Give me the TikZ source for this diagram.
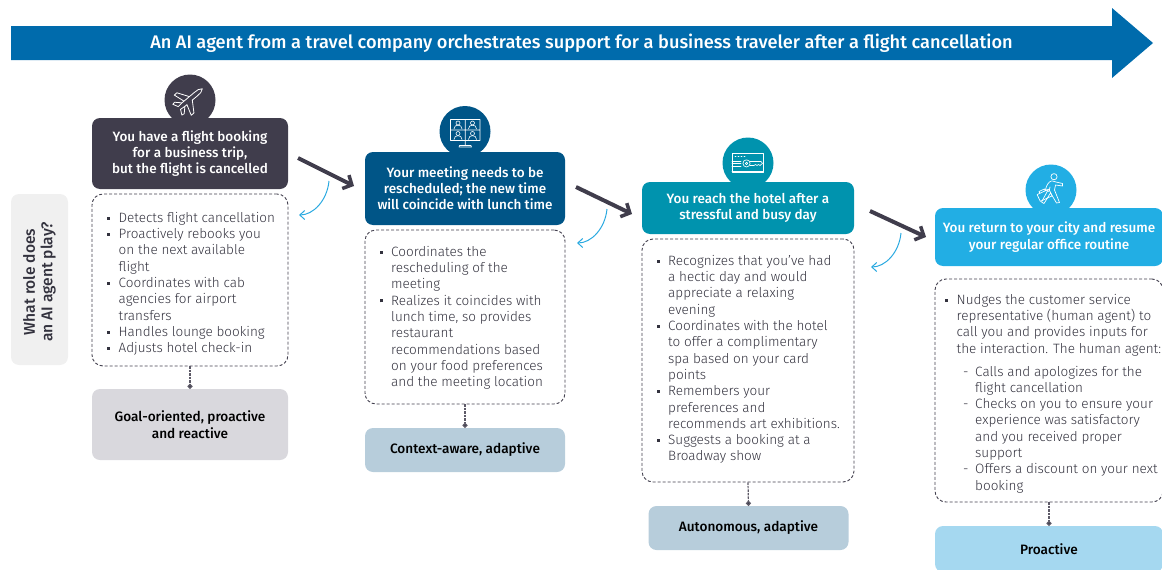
\documentclass[tikz,border=0pt]{standalone}
\usepackage{fontspec}
\setmainfont{Fira Sans Light}
\newfontfamily\medf{Fira Sans Medium}
\usetikzlibrary{arrows.meta}
\definecolor{cBan}{HTML}{006BAC}
\definecolor{cOne}{HTML}{403D4C}
\definecolor{cTwo}{HTML}{005587}
\definecolor{cThr}{HTML}{0093AE}
\definecolor{cFou}{HTML}{22AEE4}
\definecolor{cBotA}{HTML}{D9D8DD}
\definecolor{cBotB}{HTML}{B7CDDB}
\definecolor{cBotC}{HTML}{A5D8F0}
\definecolor{cRole}{HTML}{F0F0F0}
\definecolor{cCurve}{HTML}{2AA9E0}
\definecolor{cText}{HTML}{33323E}
\newcommand{\itm}[1]{\makebox[11.5pt][l]{\raisebox{2.8pt}{\rule{3pt}{3pt}}}#1}
\newcommand{\cnt}[1]{\hspace*{11.5pt}#1}
\newcommand{\sitm}[1]{\hspace*{18pt}\makebox[12pt][l]{-}#1}
\newcommand{\scnt}[1]{\hspace*{30pt}#1}
\tikzset{
  x=1pt,y=-1pt,
  hdr/.style={rectangle,rounded corners=8pt,inner sep=0pt,text=white,align=center,
    font=\medf\fontsize{13.5}{16.2}\selectfont},
  bot/.style={rectangle,rounded corners=8pt,inner sep=0pt,text=black,align=center,
    font=\medf\fontsize{13.6}{16.6}\selectfont},
  dbox/.style={rectangle,rounded corners=11pt,draw=cOne,dashed,dash pattern=on 3pt off 2pt,line width=.9pt,inner sep=0pt},
  listt/.style={anchor=north west,inner sep=0pt,align=left,text=cText,
    font=\fontsize{13.5}{16.3}\selectfont},
  icn/.style={circle,inner sep=0pt,minimum size=51pt},
  ico/.style={draw=white,line width=.75pt,line join=round,line cap=round,fill=none},
  flow/.style={draw=cOne,line width=4pt,-{Straight Barb[length=7pt,width=15pt,line width=3.5pt]}},
  curve/.style={draw=cCurve,line width=1pt,-{Straight Barb[length=5pt,width=9pt]}},
  link/.style={draw=cOne!85,dashed,dash pattern=on 2.5pt off 1pt,line width=1.2pt,-{Circle[length=5pt,fill=cOne]}}
}
\begin{document}
\begin{tikzpicture}
\useasboundingbox (0,0) rectangle (1162,570);
\clip (0,0) rectangle (1162,570);
% banner
\fill[cBan] (11,26) -- (1112,26) -- (1112,8) -- (1153,43) -- (1112,78) -- (1112,60) -- (11,60) -- cycle;
\node[text=white,font=\medf\fontsize{18.2}{21}\selectfont,inner sep=0pt] (title) at (581.5,43) {An AI agent from a travel company orchestrates support for a business traveler after a flight cancellation};
% role
\node[rectangle,rounded corners=8pt,fill=cRole,minimum width=57pt,minimum height=171pt,inner sep=0pt] (role) at (39.5,279.5) {};
\node[rotate=90,align=center,text=cText,inner sep=0pt,font=\medf\fontsize{15.6}{17.5}\selectfont] (roletxt) at (39.5,282) {What role does\\an AI agent play?};
% circles
\node[icn,fill=cOne] (i1) at (190,100) {};
\node[icn,fill=cTwo] (i2) at (465,131.5) {};
\node[icn,fill=cThr] (i3) at (748,163) {};
\node[icn,fill=cFou] (i4) at (1051,190) {};
% headers
\node[hdr,fill=cOne,minimum width=196pt,minimum height=71pt] (h1) at (190,153.5) {You have a flight booking\\for a business trip,\\but the flight is cancelled};
\node[hdr,fill=cTwo,minimum width=200pt,minimum height=73pt] (h2) at (465,188.5) {Your meeting needs to be\\rescheduled; the new time\\will coincide with lunch time};
\node[hdr,fill=cThr,minimum width=212pt,minimum height=52pt] (h3) at (748,208) {You reach the hotel after a\\stressful and busy day};
\node[hdr,fill=cFou,minimum width=228pt,minimum height=58pt] (h4) at (1049,237) {You return to your city and resume\\your regular office routine};
% dashed boxes
\node[dbox,minimum width=196pt,minimum height=172pt] (d1) at (190,280) {};
\node[dbox,minimum width=200pt,minimum height=174pt] (d2) at (465,317) {};
\node[dbox,minimum width=212pt,minimum height=243pt] (d3) at (748,360.5) {};
\node[dbox,minimum width=228pt,minimum height=223pt] (d4) at (1049,390.5) {};
% lists
\node[listt] (t1) at (107,212) {\itm{Detects flight cancellation}\\\itm{Proactively rebooks you}\\\cnt{on the next available}\\\cnt{flight}\\\itm{Coordinates with cab}\\\cnt{agencies for airport}\\\cnt{transfers}\\\itm{Handles lounge booking}\\\itm{Adjusts hotel check-in}};
\node[listt] (t2) at (379.5,246) {\itm{Coordinates the}\\\cnt{rescheduling of the}\\\cnt{meeting}\\\itm{Realizes it coincides with}\\\cnt{lunch time, so provides}\\\cnt{restaurant}\\\cnt{recommendations based}\\\cnt{on your food preferences}\\\cnt{and the meeting location}};
\node[listt] (t3) at (656.5,255) {\itm{Recognizes that you've had}\\\cnt{a hectic day and would}\\\cnt{appreciate a relaxing}\\\cnt{evening}\\\itm{Coordinates with the hotel}\\\cnt{to offer a complimentary}\\\cnt{spa based on your card}\\\cnt{points}\\\itm{Remembers your}\\\cnt{preferences and}\\\cnt{recommends art exhibitions.}\\\itm{Suggests a booking at a}\\\cnt{Broadway show}};
\node[listt] (t4) at (945,294) {\itm{Nudges the customer service}\\\cnt{representative (human agent) to}\\\cnt{call you and provides inputs for}\\\cnt{the interaction. The human agent:}\\[6.5pt]\sitm{Calls and apologizes for the}\\\scnt{flight cancellation}\\\sitm{Checks on you to ensure your}\\\scnt{experience was satisfactory}\\\scnt{and you received proper}\\\scnt{support}\\\sitm{Offers a discount on your next}\\\scnt{booking}};
% bottoms
\node[bot,fill=cBotA,minimum width=196pt,minimum height=71pt] (b1) at (190,424.5) {Goal-oriented, proactive\\and reactive};
\node[bot,fill=cBotB,minimum width=200pt,minimum height=44pt] (b2) at (465,450) {Context-aware, adaptive};
\node[bot,fill=cBotB,minimum width=200pt,minimum height=44pt] (b3) at (748.5,528) {Autonomous, adaptive};
\node[bot,fill=cBotC,minimum width=228pt,minimum height=46pt] (b4) at (1049,549) {Proactive};
% links
\draw[link] (d1.south) -- (b1.north);
\draw[link] (d2.south) -- (b2.north);
\draw[link] (d3.south) -- (b3.north);
\draw[link] (d4.south) -- (b4.north);
% flow arrows
\coordinate (fa1) at (298,158); \coordinate (fb1) at (354,186);
\coordinate (fa2) at (576,187); \coordinate (fb2) at (632,214);
\coordinate (fa3) at (870,211); \coordinate (fb3) at (926,237);
\draw[flow] (fa1) -- (fb1);
\draw[flow] (fa2) -- (fb2);
\draw[flow] (fa3) -- (fb3);
% curved arrows
\coordinate (ca1) at (329,181); \coordinate (cb1) at (299,215);
\coordinate (ca2) at (607,209); \coordinate (cb2) at (577,243);
\coordinate (ca3) at (901,233); \coordinate (cb3) at (871,267);
\draw[curve] (ca1) .. controls +(-2,20) and +(14,0) .. (cb1);
\draw[curve] (ca2) .. controls +(-2,20) and +(14,0) .. (cb2);
\draw[curve] (ca3) .. controls +(-2,20) and +(14,0) .. (cb3);
% plane icon
\begin{scope}[shift={(189.5,99.5)},rotate=40,scale=.88,ico/.append style={line width=.8pt}]
\draw[ico] (19,0) .. controls (17,-2.5) and (13,-2.6) .. (9,-2.6) -- (-9,-2.6) -- (-15,-2) -- (-18,-8) -- (-15,-8.5) -- (-9,-2.6)
 (9,-2.6) -- (2,-2.6) -- (-6,-15) -- (-10,-15) -- (-6,-2.6)
 (19,0) .. controls (17,2.5) and (13,2.6) .. (9,2.6) -- (2,2.6) -- (-6,15) -- (-10,15) -- (-6,2.6) -- (-9,2.6) -- (-15,8.5) -- (-18,8) -- (-15,2) -- (-9,2.6);
\end{scope}
% meeting icon
\begin{scope}[ico/.append style={line width=.6pt}]
\draw[ico] (450.5,119.5) rectangle (480,140.5) (465.2,119.5) -- (465.2,140.5) (450.5,130) -- (480,130)
 (465.2,140.5) -- (465.2,145.5) (459,147) -- (471.5,147) -- (471,145.5) -- (459.5,145.5) -- cycle;
\foreach \px/\py in {458/123,472.5/123,458/133.5,472.5/133.5}{
 \draw[ico] (\px,\py) circle (2pt);
 \draw[ico] (\px-4,\py+6) .. controls (\px-4,\py+3) and (\px-2,\py+2.2) .. (\px,\py+2.2) .. controls (\px+2,\py+2.2) and (\px+4,\py+3) .. (\px+4,\py+6);
}
\end{scope}
% key-card icon
\begin{scope}[ico/.append style={line width=.65pt}]
\draw[ico] (732,153) rectangle (763.5,172.7) (732,171) -- (763.5,171);
\draw[ico,dash pattern=on 1pt off 2pt] (735,156.5) -- (746,156.5);
\draw[ico] (732,161) -- (741,161) (732,163.5) -- (741,163.5) (732,166) -- (741,166);
\draw[ico] (746.5,163.4) circle (3.6pt) (746.5,163.4) circle (1.2pt);
\draw[ico] (750,161.5) -- (761,161.5) -- (762.5,163.4) -- (760,165.5) -- (758.5,164.5) -- (757,165.5) -- (755.5,164.5) -- (754,165.5) -- (750,165.5);
\end{scope}
% walker icon
\begin{scope}[ico/.append style={line width=.7pt}]
\draw[ico] (1054,176.7) circle (3.1pt);
\draw[ico] (1051.5,181) .. controls (1049,181.5) and (1047,184) .. (1045.5,189.5) -- (1049,191.5) -- (1050,187)
 (1052.5,181) -- (1056,182) -- (1062.5,183.5) -- (1062.5,186) -- (1055.5,185) -- (1054.5,190) -- (1059.5,202.5) -- (1056.5,203)
 -- (1050.5,193) -- (1044,203.5) -- (1041.5,202) -- (1047.5,191);
\draw[ico,rotate around={25:(1044.5,195)}] (1038,191.5) rectangle (1051,199) (1041,191.5) -- (1041,189.5) -- (1047,189.5) -- (1047,191.5);
\end{scope}
\end{tikzpicture}
\end{document}
